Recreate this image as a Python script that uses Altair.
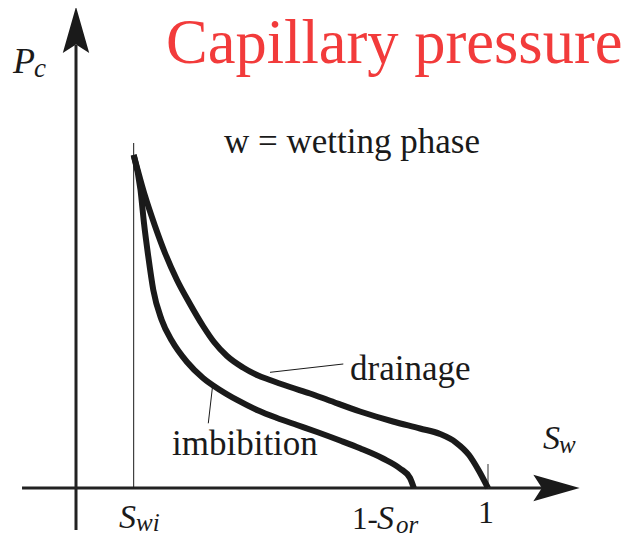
import altair as alt
import pandas as pd

# ---- data (Sw = water saturation, Pc = capillary pressure, arbitrary units)
swi = 0.14          # irreducible wetting saturation
sor = 0.18          # residual oil saturation
pc_top = 1.0        # entry of both curves at Swi

drain_sw = [swi, 0.1675, 0.1917, 0.2160, 0.2451, 0.2767, 0.3083, 0.3350, 0.3665, 0.4053,
            0.4393, 0.4709, 0.5194, 0.5680, 0.6117, 0.6893, 0.7694, 0.8350, 0.8835, 0.9223,
            0.9539, 0.9782, 1.0]
drain_pc = [pc_top, 0.8769, 0.7868, 0.7057, 0.6246, 0.5526, 0.4865, 0.4384, 0.3964, 0.3619,
            0.3393, 0.3243, 0.3033, 0.2838, 0.2643, 0.2297, 0.1997, 0.1787, 0.1622, 0.1366,
            0.0991, 0.0511, 0.0]

imb_sw = [swi, 0.1566, 0.1650, 0.1755, 0.1876, 0.2080, 0.2330, 0.2694, 0.3083, 0.3495,
          0.3908, 0.4393, 0.4879, 0.5364, 0.5850, 0.6408, 0.6893, 0.7451, 0.7864, 0.8107,
          1 - sor]
imb_pc = [pc_top, 0.8949, 0.7958, 0.6946, 0.5946, 0.5045, 0.4414, 0.3784, 0.3303, 0.2943,
          0.2643, 0.2342, 0.2102, 0.1892, 0.1682, 0.1426, 0.1192, 0.0886, 0.0586, 0.0300,
          0.0]

# axis extents (data units)
x_axis_from, x_axis_to = -0.131, 1.1335
y_axis_from, y_axis_to = -0.1261, 1.330
swi_line_top = 1.036
tick_top = 0.072

# leader lines: (Sw, Pc) start -> end
drain_leader = [0.4709, 0.3474, 0.6488, 0.3724]
imb_leader = [0.3318, 0.3093, 0.3211, 0.1943]

# text labels
reg_text = ["w = wetting phase", "drainage", "imbibition", "1-", "1"]
reg_x = [0.3592, 0.6650, 0.2330, 0.6699, 0.9757]
reg_y = [1.0060, 0.3243, 0.0991, -0.1231, -0.1051]
reg_size = [35, 35, 35, 31, 32]

ita_text = ["S", "w", "P", "c", "S", "wi", "S", "or"]
ita_x = [1.1335, 1.1723, -0.1529, -0.1019, 0.1044, 0.1456, 0.7306, 0.7767]
ita_y = [0.1171, 0.1051, 1.2462, 1.2342, -0.1201, -0.1291, -0.1231, -0.1351]
ita_size = [34, 25, 36, 27, 34, 25, 34, 25]

title_text = "Capillary pressure"
title_x, title_y = 0.2184, 1.2763

# ---- tables
curves = pd.concat([
    pd.DataFrame({"Sw": drain_sw, "Pc": drain_pc, "curve": "drainage", "i": range(len(drain_sw))}),
    pd.DataFrame({"Sw": imb_sw, "Pc": imb_pc, "curve": "imbibition", "i": range(len(imb_sw))}),
])
thick_rules = pd.DataFrame({
    "x": [x_axis_from, 0.0], "x2": [x_axis_to, 0.0],
    "y": [0.0, y_axis_from], "y2": [0.0, y_axis_to],
})
thin_rules = pd.DataFrame({
    "x": [swi, drain_leader[0], imb_leader[0]],
    "x2": [swi, drain_leader[2], imb_leader[2]],
    "y": [0.0, drain_leader[1], imb_leader[1]],
    "y2": [swi_line_top, drain_leader[3], imb_leader[3]],
})
tick_rule = pd.DataFrame({"x": [1.0], "x2": [1.0], "y": [0.0], "y2": [tick_top]})
heads = pd.DataFrame({"x": [0.0, (x_axis_to + 1.199) / 2], "y": [1.3758, 0.0], "angle": [0, 90]})
regs = pd.DataFrame({"t": reg_text, "x": reg_x, "y": reg_y, "s": reg_size})
itas = pd.DataFrame({"t": ita_text, "x": ita_x, "y": ita_y, "s": ita_size})
title_df = pd.DataFrame({"t": [title_text], "x": [title_x], "y": [title_y]})

xs = alt.Scale(domain=[-0.16505, 1.34709], nice=False, zero=False)
ys = alt.Scale(domain=[-0.14715, 1.44144], nice=False, zero=False)
X = lambda f: alt.X(f, type="quantitative", scale=xs, axis=None)
Y = lambda f: alt.Y(f, type="quantitative", scale=ys, axis=None)
INK = "#1a1a1a"
FONT = "Liberation Serif"

lines = alt.Chart(curves).mark_line(
    color=INK, strokeWidth=6, interpolate="monotone", strokeCap="butt", strokeJoin="round"
).encode(x=X("Sw"), y=Y("Pc"), detail="curve:N", order="i:Q")

axes = alt.Chart(thick_rules).mark_rule(color="#222222", strokeWidth=3).encode(
    x=X("x"), x2="x2", y=Y("y"), y2="y2")
thin = alt.Chart(thin_rules).mark_rule(color=INK, strokeWidth=1).encode(
    x=X("x"), x2="x2", y=Y("y"), y2="y2")
tick = alt.Chart(tick_rule).mark_rule(color="#777777", strokeWidth=1.5).encode(
    x=X("x"), x2="x2", y=Y("y"), y2="y2")

arrow_path = "M0,-1L0.57,1L0,0.63L-0.57,1Z"
arrows = alt.Chart(heads).mark_point(
    shape=arrow_path, filled=True, size=2150, color=INK, opacity=1, strokeWidth=0
).encode(x=X("x"), y=Y("y"), angle=alt.Angle("angle:Q", scale=None))

reg_layer = alt.Chart(regs).mark_text(
    font=FONT, align="left", baseline="alphabetic", color=INK
).encode(x=X("x"), y=Y("y"), text="t:N", size=alt.Size("s:Q", scale=None))
ita_layer = alt.Chart(itas).mark_text(
    font=FONT, fontStyle="italic", align="left", baseline="alphabetic", color=INK
).encode(x=X("x"), y=Y("y"), text="t:N", size=alt.Size("s:Q", scale=None))
title_layer = alt.Chart(title_df).mark_text(
    font=FONT, align="left", baseline="alphabetic", color="#f23b3b", fontSize=62.5
).encode(x=X("x"), y=Y("y"), text="t:N")

chart = alt.layer(
    axes, thin, tick, lines, arrows, reg_layer, ita_layer, title_layer
).properties(
    width=623, height=529, padding=0,
    autosize=alt.AutoSizeParams(type="none"),
).configure_view(stroke=None)

chart.save("out.html", embed_options={"renderer": "svg", "actions": False})
